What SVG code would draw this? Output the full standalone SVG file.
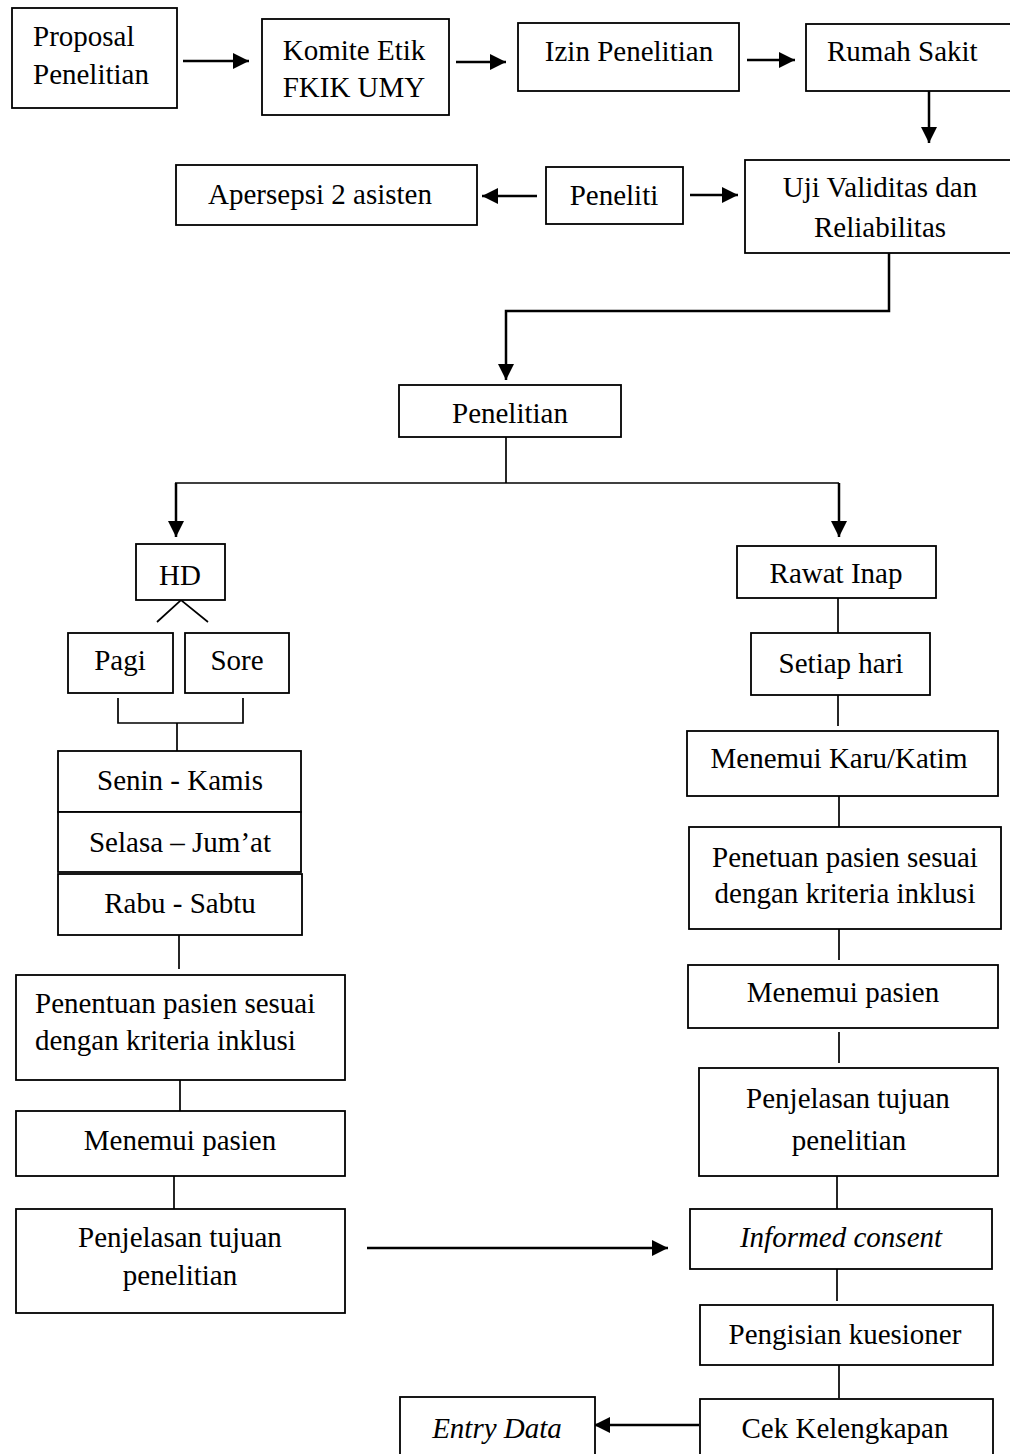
<svg xmlns="http://www.w3.org/2000/svg" width="1010" height="1454" viewBox="0 0 1010 1454">
<style>
.b{fill:#fff;stroke:#000;stroke-width:1.8}
.t{font-family:"Liberation Serif","Times New Roman",serif;font-size:29px;fill:#000}
.c{text-anchor:middle}
.i{font-style:italic}
.ln{fill:none;stroke:#000;stroke-width:1.7}
.ar{fill:none;stroke:#000;stroke-width:2.5;marker-end:url(#ah)}
</style>
<defs>
<marker id="ah" viewBox="0 0 16 16" refX="16" refY="8" markerWidth="16" markerHeight="16" markerUnits="userSpaceOnUse" orient="auto">
<path d="M0,0 L16,8 L0,16 z" fill="#000"/>
</marker>
</defs>
<rect width="1010" height="1454" fill="#fff"/>
<g id="connectors">
<path class="ar" d="M183,61 H249"/>
<path class="ar" d="M456,62 H506"/>
<path class="ar" d="M747,60 H795"/>
<path class="ar" d="M929,90 V143"/>
<path class="ar" d="M537,196 H482"/>
<path class="ar" d="M690,195 H738"/>
<path class="ar" d="M889,253 V311 H506 V380"/>
<path class="ln" d="M506,437 V483"/>
<path class="ln" d="M175,483 H839"/>
<path class="ar" d="M176,483 V537"/>
<path class="ar" d="M839,483 V537"/>
<path class="ln" d="M157,622 L181,600 L208,622"/>
<path class="ln" d="M118,698 V723 H243 V698"/>
<path class="ln" d="M177,723 V751"/>
<path class="ln" d="M179,935 V969"/>
<path class="ln" d="M180,1080 V1111"/>
<path class="ln" d="M174,1176 V1209"/>
<path class="ar" d="M367,1248 H668"/>
<path class="ln" d="M838,598 V633"/>
<path class="ln" d="M838,695 V726"/>
<path class="ln" d="M839,796 V827"/>
<path class="ln" d="M839,929 V960"/>
<path class="ln" d="M839,1032 V1063"/>
<path class="ln" d="M837,1176 V1209"/>
<path class="ln" d="M837,1269 V1301"/>
<path class="ln" d="M839,1365 V1398"/>
<path class="ar" d="M699,1425 H594"/>
</g>
<g id="proposal"><rect class="b" x="12" y="8" width="165" height="100"/><text class="t" x="33" y="46" font-size="28">Proposal</text><text class="t" x="33" y="84" font-size="28">Penelitian</text></g>
<g id="komite"><rect class="b" x="262" y="19" width="187" height="96"/><text class="t c" x="354" y="60">Komite Etik</text><text class="t c" x="354" y="97">FKIK UMY</text></g>
<g id="izin"><rect class="b" x="518" y="23" width="221" height="68"/><text class="t c" x="629" y="61">Izin Penelitian</text></g>
<g id="rumahsakit"><rect class="b" x="806" y="24" width="215" height="67"/><text class="t" x="827" y="61">Rumah Sakit</text></g>
<g id="apersepsi"><rect class="b" x="176" y="165" width="301" height="60"/><text class="t c" x="320" y="204" font-size="31">Apersepsi 2 asisten</text></g>
<g id="peneliti"><rect class="b" x="546" y="167" width="137" height="57"/><text class="t c" x="614" y="205">Peneliti</text></g>
<g id="uji"><rect class="b" x="745" y="160" width="275" height="93"/><text class="t c" x="880" y="197">Uji Validitas dan</text><text class="t c" x="880" y="237">Reliabilitas</text></g>
<g id="penelitian"><rect class="b" x="399" y="385" width="222" height="52"/><text class="t c" x="510" y="423">Penelitian</text></g>
<g id="hd"><rect class="b" x="136" y="544" width="89" height="56"/><text class="t c" x="180" y="585" font-size="31">HD</text></g>
<g id="rawatinap"><rect class="b" x="737" y="546" width="199" height="52"/><text class="t c" x="836" y="583">Rawat Inap</text></g>
<g id="pagi"><rect class="b" x="68" y="633" width="105" height="60"/><text class="t c" x="120" y="670" font-size="28">Pagi</text></g>
<g id="sore"><rect class="b" x="185" y="633" width="104" height="60"/><text class="t c" x="237" y="670" font-size="28">Sore</text></g>
<g id="senin"><rect class="b" x="58" y="751" width="243" height="61"/><text class="t c" x="180" y="790" font-size="31.5">Senin - Kamis</text></g>
<g id="selasa"><rect class="b" x="58" y="812" width="243" height="60"/><text class="t c" x="180" y="852" font-size="31.5">Selasa – Jum’at</text></g>
<g id="rabu"><rect class="b" x="58" y="874" width="244" height="61" stroke-width="2.2"/><text class="t c" x="180" y="913" font-size="31.5">Rabu - Sabtu</text></g>
<g id="setiaphari"><rect class="b" x="751" y="633" width="179" height="62"/><text class="t c" x="841" y="673" font-size="31.5">Setiap hari</text></g>
<g id="karu"><rect class="b" x="687" y="731" width="311" height="65"/><text class="t c" x="839" y="768">Menemui Karu/Katim</text></g>
<g id="penetuan-ri"><rect class="b" x="689" y="827" width="312" height="102"/><text class="t c" x="845" y="867">Penetuan pasien sesuai</text><text class="t c" x="845" y="903">dengan kriteria inklusi</text></g>
<g id="menemui-ri"><rect class="b" x="688" y="965" width="310" height="63"/><text class="t c" x="843" y="1002">Menemui pasien</text></g>
<g id="penjelasan-ri"><rect class="b" x="699" y="1068" width="299" height="108"/><text class="t c" x="848" y="1108" font-size="30.5">Penjelasan tujuan</text><text class="t c" x="849" y="1150" font-size="30.5">penelitian</text></g>
<g id="informed"><rect class="b" x="690" y="1209" width="302" height="60"/><text class="t c i" x="841" y="1247">Informed consent</text></g>
<g id="pengisian"><rect class="b" x="700" y="1305" width="293" height="60"/><text class="t c" x="845" y="1344">Pengisian kuesioner</text></g>
<g id="cek"><rect class="b" x="700" y="1399" width="293" height="80"/><text class="t c" x="845" y="1438" font-size="28.5">Cek Kelengkapan</text></g>
<g id="entrydata"><rect class="b" x="400" y="1397" width="195" height="80"/><text class="t c i" x="497" y="1438">Entry Data</text></g>
<g id="penentuan-hd"><rect class="b" x="16" y="975" width="329" height="105"/><text class="t" x="35" y="1013">Penentuan pasien sesuai</text><text class="t" x="35" y="1050">dengan kriteria inklusi</text></g>
<g id="menemui-hd"><rect class="b" x="16" y="1111" width="329" height="65"/><text class="t c" x="180" y="1150">Menemui pasien</text></g>
<g id="penjelasan-hd"><rect class="b" x="16" y="1209" width="329" height="104"/><text class="t c" x="180" y="1247" font-size="28">Penjelasan tujuan</text><text class="t c" x="180" y="1285" font-size="28.5">penelitian</text></g>
</svg>
